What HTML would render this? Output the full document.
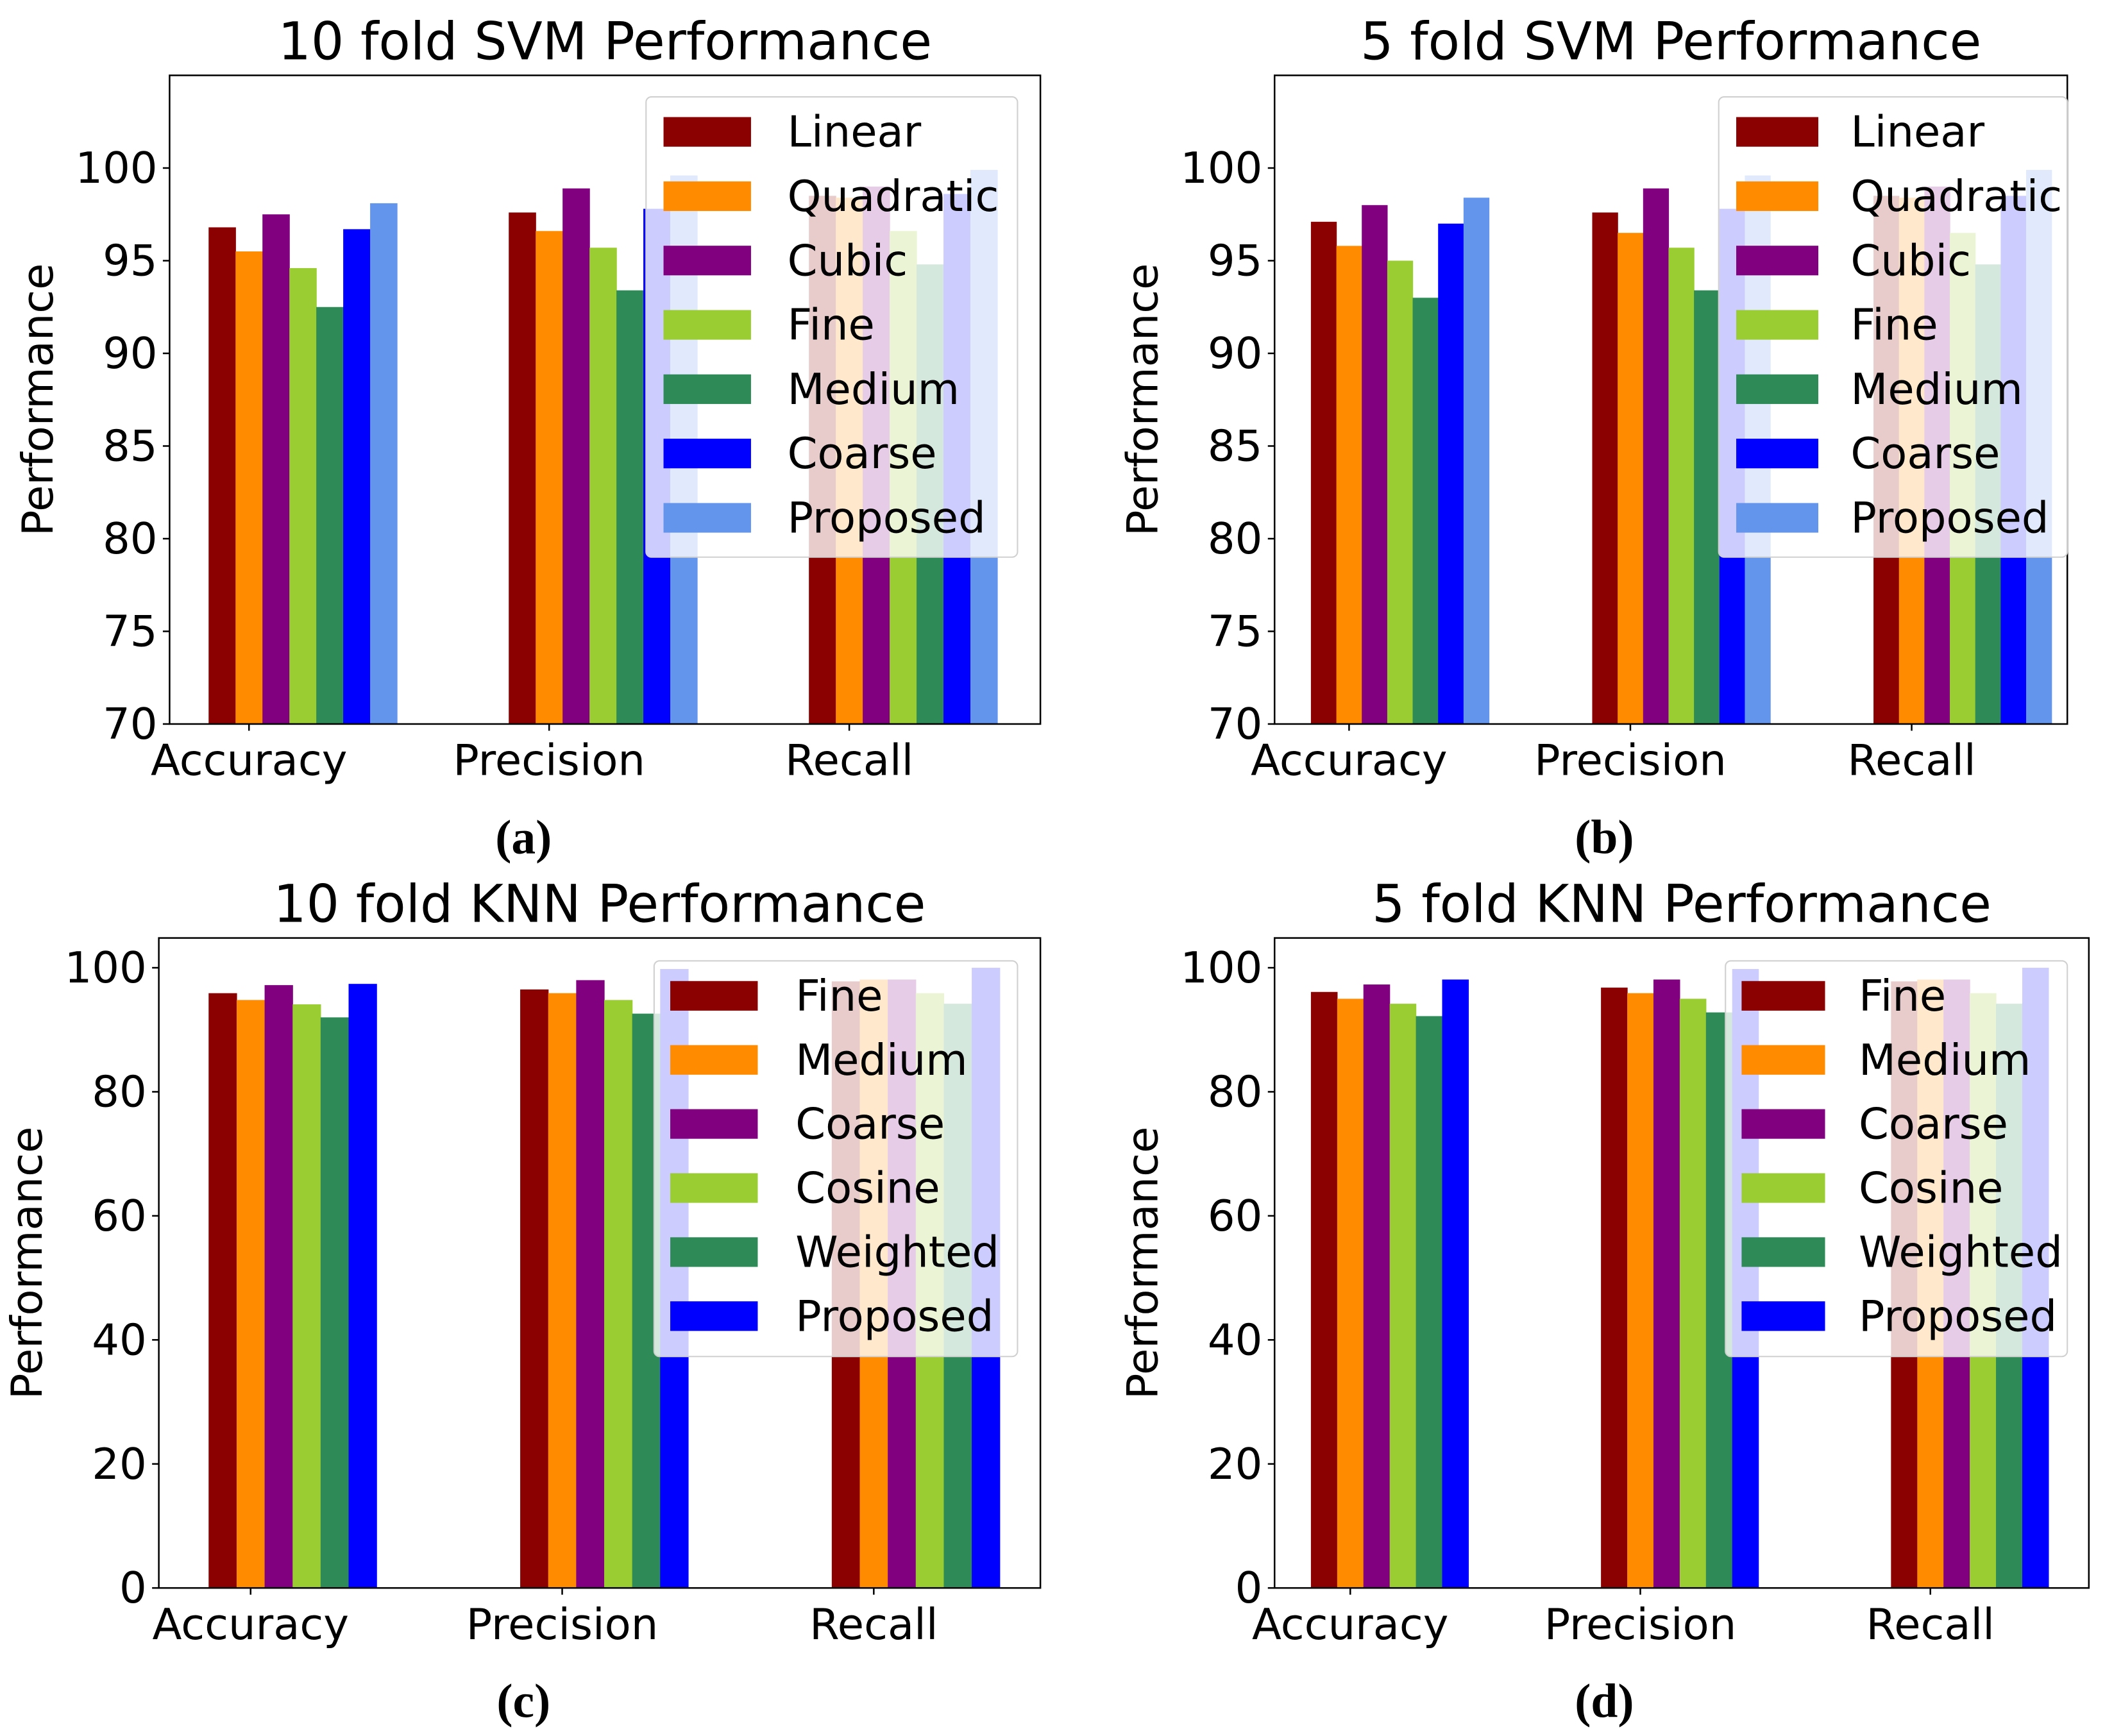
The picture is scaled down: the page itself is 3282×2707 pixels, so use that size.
<!DOCTYPE html>
<html><head><meta charset="utf-8"><style>
html,body{margin:0;padding:0;background:#fff;}
svg{display:block;}
text{font-family:"DejaVu Sans","Liberation Sans",sans-serif;fill:#000;}
.cap{font-family:"Liberation Serif",serif;font-weight:bold;}
</style></head><body>
<svg id="fig" xmlns="http://www.w3.org/2000/svg" width="3282" height="2707" viewBox="0 0 1564 1290" preserveAspectRatio="none"></svg>
<script>
const categories = ["Accuracy", "Precision", "Recall"];
const svmSeries = ["Linear", "Quadratic", "Cubic", "Fine", "Medium", "Coarse", "Proposed"];
const knnSeries = ["Fine", "Medium", "Coarse", "Cosine", "Weighted", "Proposed"];
const svmColors = ["#8b0000", "#ff8c00", "#800080", "#9acd32", "#2e8b57", "#0000ff", "#6495ed"];
const knnColors = ["#8b0000", "#ff8c00", "#800080", "#9acd32", "#2e8b57", "#0000ff"];
// values [series][category]
const svm10Values = [
  [96.8, 97.6, 98.5],
  [95.5, 96.6, 98.4],
  [97.5, 98.9, 99.0],
  [94.6, 95.7, 96.6],
  [92.5, 93.4, 94.8],
  [96.7, 97.8, 98.6],
  [98.1, 99.6, 99.9]
];
const svm5Values = [
  [97.1, 97.6, 98.5],
  [95.8, 96.5, 98.4],
  [98.0, 98.9, 99.0],
  [95.0, 95.7, 96.5],
  [93.0, 93.4, 94.8],
  [97.0, 97.8, 98.5],
  [98.4, 99.6, 99.9]
];
const knn10Values = [
  [95.9, 96.5, 97.8],
  [94.8, 95.9, 98.1],
  [97.2, 98.0, 98.1],
  [94.1, 94.8, 95.9],
  [92.0, 92.6, 94.2],
  [97.4, 99.8, 100.0]
];
const knn5Values = [
  [96.1, 96.8, 97.8],
  [95.0, 95.9, 98.1],
  [97.3, 98.1, 98.1],
  [94.2, 95.0, 95.9],
  [92.2, 92.8, 94.2],
  [98.1, 99.8, 100.0]
];
const svmTicks = [70, 75, 80, 85, 90, 95, 100];
const knnTicks = [0, 20, 40, 60, 80, 100];

const NS = "http://www.w3.org/2000/svg";
const fig = document.getElementById('fig');
function mk(tag, attrs, parent) {
  const e = document.createElementNS(NS, tag);
  for (const k in attrs) e.setAttribute(k, attrs[k]);
  (parent || fig).appendChild(e);
  return e;
}

const panels = [
  {id:"svm-10", title:"10 fold SVM Performance", cap:"(a)", capx:389, L:126, R:773, T:56, B:538, ymin:70, ymax:105, ticks:svmTicks, vals:svm10Values, names:svmSeries, colors:svmColors, x0:155, gap:223, bw:20.0,
   leg:{x:480, y:72, w:276, h:342, px:493, pw:65, tx:585, ey0:98, step:47.8}},
  {id:"svm-5", title:"5 fold SVM Performance", cap:"(b)", capx:1192, L:947, R:1536, T:56, B:538, ymin:70, ymax:105, ticks:svmTicks, vals:svm5Values, names:svmSeries, colors:svmColors, x0:974, gap:209, bw:18.9,
   leg:{x:1277, y:72, w:259, h:342, px:1290, pw:61, tx:1375, ey0:98, step:47.8}},
  {id:"knn-10", title:"10 fold KNN Performance", cap:"(c)", capx:389, L:118, R:773, T:697, B:1180, ymin:0, ymax:104.8, ticks:knnTicks, vals:knn10Values, names:knnSeries, colors:knnColors, x0:155, gap:231.5, bw:20.8,
   leg:{x:486, y:714, w:270, h:294, px:498, pw:65, tx:591, ey0:740, step:47.6}},
  {id:"knn-5", title:"5 fold KNN Performance", cap:"(d)", capx:1192, L:947, R:1552, T:697, B:1180, ymin:0, ymax:104.8, ticks:knnTicks, vals:knn5Values, names:knnSeries, colors:knnColors, x0:974, gap:215.5, bw:19.5,
   leg:{x:1282, y:714, w:254, h:294, px:1294, pw:62, tx:1381, ey0:740, step:47.6}}
];

panels.forEach(p => {
  const g = mk('g', {});
  
  
  const ys = v => p.B - (v - p.ymin) / (p.ymax - p.ymin) * (p.B - p.T);
  const xs = (c, s) => p.x0 + c * p.gap + s * p.bw;
  p.vals.forEach((series, s) => {
    series.forEach((v, c) => {
      const r = mk('rect', {x: xs(c, s), y: ys(v), width: p.bw + 0.3, height: p.B - ys(v), fill: p.colors[s]}, g);
      
      
    });
  });
  const fr = mk('rect', {x: p.L, y: p.T, width: p.R - p.L, height: p.B - p.T, fill: 'none', stroke: '#000', 'stroke-width': 1.2}, g);
  
  
  p.ticks.forEach(t => {
    const y = ys(t);
    mk('line', {x1: p.L - 5, x2: p.L, y1: y, y2: y, stroke: '#000', 'stroke-width': 1.2}, g);
    const tx = mk('text', {x: p.L - 9, y: y + 11, 'font-size': 32, 'text-anchor': 'end'}, g);
    tx.textContent = t;
    
    
  });
  categories.forEach((cat, c) => {
    const x = xs(c, 1.5);
    mk('line', {x1: x, x2: x, y1: p.B, y2: p.B + 5, stroke: '#000', 'stroke-width': 1.2}, g);
    const tx = mk('text', {x: x, y: p.B + 38, 'font-size': 32, 'text-anchor': 'middle'}, g);
    tx.textContent = cat;
    
    
  });
  const yc = (p.T + p.B) / 2;
  const yl = mk('text', {x: 0, y: 0, 'font-size': 32, 'text-anchor': 'middle', transform: 'translate(' + (p.L - 87) + ',' + yc + ') rotate(-90)'}, g);
  yl.textContent = 'Performance';
  
  
  const ti = mk('text', {x: (p.L + p.R) / 2, y: p.T - 12, 'font-size': 38.5, 'text-anchor': 'middle'}, g);
  ti.textContent = p.title;
  
  
  const cp = mk('text', {x: p.capx, y: p.B + 96, 'font-size': 36, 'text-anchor': 'middle', class: 'cap'}, g);
  cp.textContent = p.cap;
  
  
  const lg = mk('g', {}, g);
  
  
  const L = p.leg;
  mk('rect', {x: L.x, y: L.y, width: L.w, height: L.h, rx: 4, fill: '#fff', 'fill-opacity': 0.8, stroke: '#d0d0d0', 'stroke-width': 1}, lg);
  p.names.forEach((n, s) => {
    const ey = L.ey0 + s * L.step;
    const e = mk('g', {}, lg);
    
    
    mk('rect', {x: L.px, y: ey - 11, width: L.pw, height: 22, fill: p.colors[s]}, e);
    const t = mk('text', {x: L.tx, y: ey + 11, 'font-size': 32}, e);
    t.textContent = n;
  });
});
</script>
</body></html>
